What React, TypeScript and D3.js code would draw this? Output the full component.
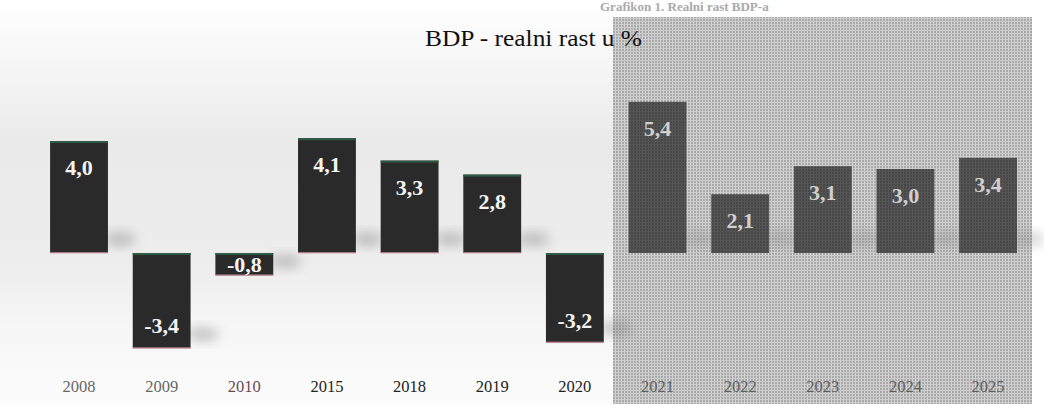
import React from "react";
import * as d3 from "d3";

const years = ["2008", "2009", "2010", "2015", "2018", "2019", "2020", "2021", "2022", "2023", "2024", "2025"];
const growth = [4.0, -3.4, -0.8, 4.1, 3.3, 2.8, -3.2, 5.4, 2.1, 3.1, 3.0, 3.4];
const valueLabels = ["4,0", "-3,4", "-0,8", "4,1", "3,3", "2,8", "-3,2", "5,4", "2,1", "3,1", "3,0", "3,4"];
const forecastFrom = "2021";
const title = "BDP - realni rast u %";
const topCaption = "Grafikon 1. Realni rast BDP-a";

const W = 1044;
const H = 405;
const FONT = "'Liberation Serif', 'Times New Roman', serif";

export default function App() {
  const x = d3.scaleBand<string>().domain(years).range([37.7, 1029.4]).paddingInner(0.3).paddingOuter(0.15);
  const y = d3.scaleLinear().domain([-4, 5.5]).range([365, 99]);
  const y0 = y(0);
  const fIdx = years.indexOf(forecastFrom);
  const shadeX0 = 613;
  const shadeX1 = 1032;

  return (
    <svg width={W} height={H} style={{ position: "fixed", left: 0, top: 0, background: "#fff" }}>
      <defs>
        <linearGradient id="bgGrad" x1="0" y1="0" x2="0" y2="1">
          <stop offset="0" stopColor="#ffffff" />
          <stop offset="0.22" stopColor="#f2f2f2" />
          <stop offset="0.35" stopColor="#eaeaea" />
          <stop offset="0.65" stopColor="#ededed" />
          <stop offset="0.82" stopColor="#f7f7f7" />
          <stop offset="1" stopColor="#fcfcfc" />
        </linearGradient>
        <pattern id="hatch" width="3" height="3" patternUnits="userSpaceOnUse">
          <rect width="3" height="3" fill="#a9a9a9" />
          <rect width="1" height="3" fill="#d4d4d4" />
          <rect width="3" height="1" fill="#cdcdcd" />
        </pattern>
        <pattern id="hatchDark" width="3" height="3" patternUnits="userSpaceOnUse">
          <rect width="3" height="3" fill="#474747" />
          <rect width="1" height="3" fill="#585858" />
          <rect width="3" height="1" fill="#525252" />
        </pattern>
        <filter id="blur" x="-50%" y="-50%" width="200%" height="200%">
          <feGaussianBlur stdDeviation="6" />
        </filter>
        <filter id="soft" x="-10%" y="-10%" width="120%" height="120%">
          <feGaussianBlur stdDeviation="0.6" />
        </filter>
      </defs>

      <rect x={0} y={0} width={W} height={H} fill="#fff" />
      <rect x={0} y={0} width={shadeX0} height={H} fill="url(#bgGrad)" />

      <rect x={shadeX0} y={17} width={shadeX1 - shadeX0} height={H - 17 - 1} fill="url(#hatch)" />

      <text x={600} y={11} fontFamily={FONT} fontSize={13} fill="#aaa" fontWeight="bold">
        {topCaption}
      </text>

      <text x={425} y={46} fontFamily={FONT} fontSize={24} fill="#111" textLength={217} lengthAdjust="spacingAndGlyphs">
        {title}
      </text>

      {years.map((yr, i) => {
        const v = growth[i];
        const bx = x(yr)!;
        const bw = x.bandwidth();
        const top = v >= 0 ? y(v) : y0;
        const bot = v >= 0 ? y0 : y(v);
        const forecast = i >= fIdx;
        const hgt = bot - top;
        let labelY: number;
        if (v >= 0) labelY = top + 34;
        else if (hgt < 40) labelY = (top + bot) / 2 + 8;
        else labelY = bot - 15;
        return (
          <g key={yr}>
            <ellipse
              cx={bx + bw + 12}
              cy={bot - 14}
              rx={16}
              ry={7}
              fill="#777"
              opacity={forecast ? 0.3 : 0.4}
              filter="url(#blur)"
            />
            <rect
              x={bx}
              y={top}
              width={bw}
              height={hgt}
              fill={forecast ? "url(#hatchDark)" : "#2b2b2b"}
              filter="url(#soft)"
            />
            {!forecast && <rect x={bx} y={top} width={bw} height={2} fill="#2f5a44" />}
            {!forecast && <rect x={bx} y={bot - 1} width={bw} height={1.5} fill="#c9909e" opacity={0.8} />}
            <text
              x={bx + bw / 2}
              y={labelY}
              textAnchor="middle"
              fontFamily={FONT}
              fontSize={22}
              fontWeight="bold"
              fill={forecast ? "#cfcfcf" : "#f4f4f4"}
            >
              {valueLabels[i]}
            </text>
            <text
              x={bx + bw / 2}
              y={392}
              textAnchor="middle"
              fontFamily={FONT}
              fontSize={16.5}
              fill={forecast ? "#5e5e5e" : i < 2 ? "#666" : i === 2 ? "#6a4a52" : "#222"}
            >
              {yr}
            </text>
          </g>
        );
      })}
    </svg>
  );
}
